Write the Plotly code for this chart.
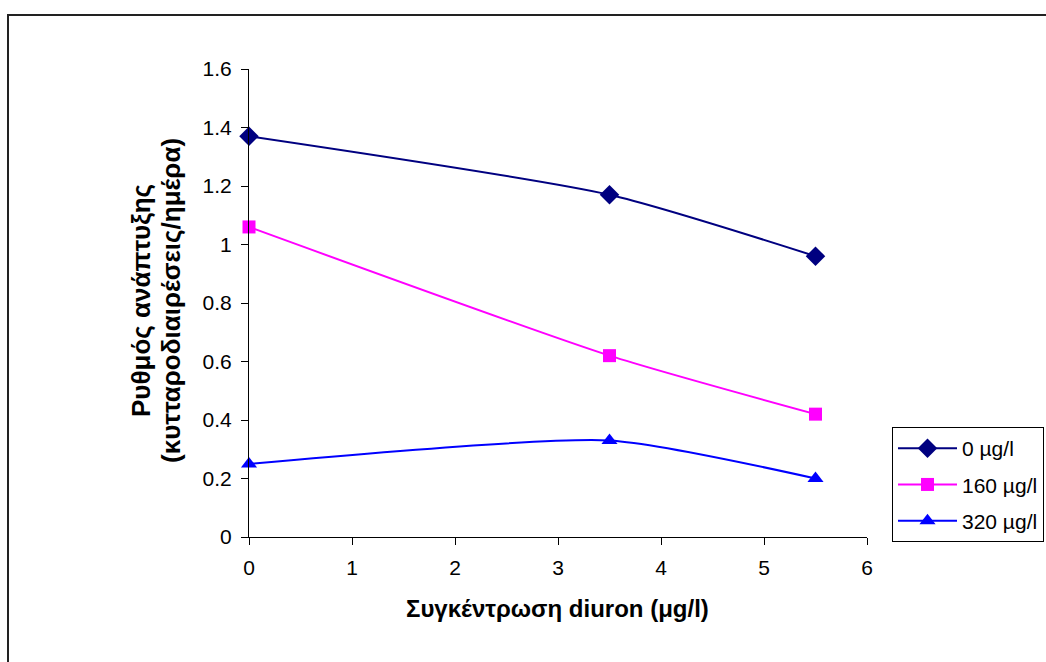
import plotly.graph_objects as go

x_vals = [0, 3.5, 5.5]
s0 = [1.37, 1.17, 0.96]
s160 = [1.06, 0.62, 0.42]
s320 = [0.25, 0.33, 0.20]
names = ["0 µg/l", "160 µg/l", "320 µg/l"]
colors = ["#000080", "#FF00FF", "#0000FF"]
symbols = ["diamond", "square", "triangle-up"]
sizes = [15, 13, 14]
x_ticks = [0, 1, 2, 3, 4, 5, 6]
y_ticks = [0, 0.2, 0.4, 0.6, 0.8, 1, 1.2, 1.4, 1.6]
y_ticklabels = ["0", "0.2", "0.4", "0.6", "0.8", "1", "1.2", "1.4", "1.6"]
x_title = "Συγκέντρωση diuron (μg/l)"
y_title_lines = ["Ρυθμός ανάπτυξης", "(κυτταροδιαιρέσεις/ημέρα)"]

fig = go.Figure()
for i, (ys, n, c, sym, sz) in enumerate(zip([s0, s160, s320], names, colors, symbols, sizes)):
    fig.add_trace(go.Scatter(
        x=x_vals, y=ys, name=n, mode="lines+markers", legendgroup=f"g{i}",
        line=dict(color=c, width=2, shape="spline", smoothing=0.6),
        marker=dict(symbol=sym, size=sz, color=c),
        cliponaxis=False,
    ))

L, R, T, B = 249, 179, 69, 125
W, H = 1046, 662
pw, ph = W - L - R, H - T - B

def px(xp):
    return (xp - L) / pw

def py(yp):
    return (H - B - yp) / ph

annotations = [
    dict(text=f"<b>{x_title}</b>", xref="paper", yref="paper",
         x=px(557), y=py(608), xanchor="center", yanchor="middle",
         showarrow=False, font=dict(size=24)),
]
for txt, xc in zip(y_title_lines, [141, 171]):
    annotations.append(dict(
        text=f"<b>{txt}</b>", xref="paper", yref="paper", x=px(xc), y=py(301),
        xanchor="center", yanchor="middle", textangle=-90,
        showarrow=False, font=dict(size=26)))

fig.update_layout(
    width=W, height=H,
    margin=dict(l=L, r=R, t=T, b=B, autoexpand=False),
    paper_bgcolor="white", plot_bgcolor="white",
    font=dict(family="Liberation Sans, Arial, sans-serif", size=21, color="black"),
    showlegend=True,
    legend=dict(
        x=px(892), y=py(427), xanchor="left", yanchor="top",
        bordercolor="black", borderwidth=1, bgcolor="white",
        font=dict(size=21), itemwidth=59, tracegroupgap=6,
    ),
    xaxis=dict(
        range=[0, 6], tickvals=x_ticks, ticks="outside", ticklen=7,
        tickcolor="black", showline=True, linecolor="black", linewidth=1,
        showgrid=False, zeroline=False, ticklabelstandoff=5,
    ),
    yaxis=dict(
        range=[0, 1.6], tickvals=y_ticks, ticktext=y_ticklabels,
        ticks="outside", ticklen=7, tickcolor="black", showline=True,
        linecolor="black", linewidth=1, showgrid=False, zeroline=False,
        ticklabelstandoff=5,
    ),
    annotations=annotations,
    shapes=[
        dict(type="rect", xref="paper", yref="paper",
             x0=px(8), y0=py(H + 20), x1=px(W + 20), y1=py(15),
             line=dict(color="#222222", width=2), fillcolor="rgba(0,0,0,0)", layer="below"),
    ],
)

fig.write_html("out.html")
